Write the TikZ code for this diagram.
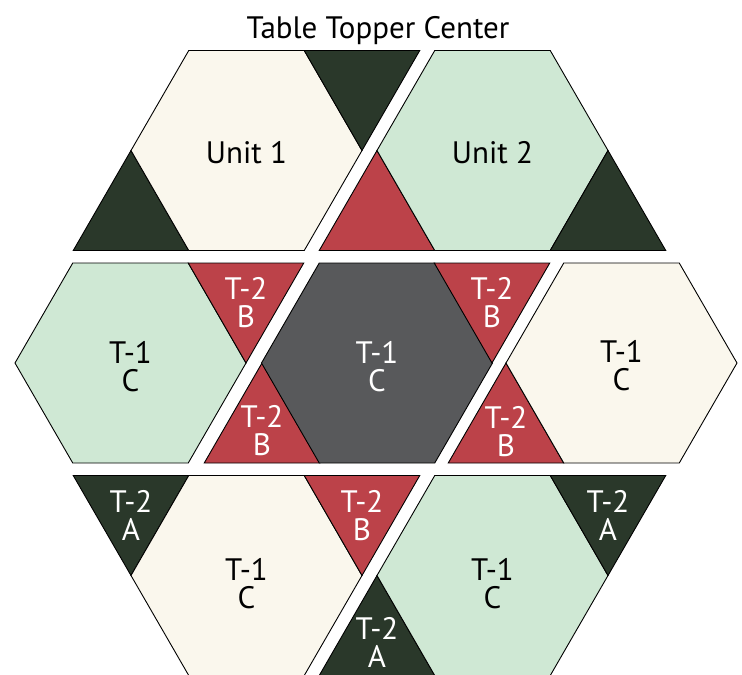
\documentclass[tikz,border=0pt]{standalone}
\usepackage{fontspec}
\setmainfont{PT Sans}
\usepackage{tikz}
\usepackage{xcolor}
\definecolor{cCream}{RGB}{250,247,237}
\definecolor{cMint}{RGB}{207,232,212}
\definecolor{cForest}{RGB}{42,56,42}
\definecolor{cBerry}{RGB}{188,66,73}
\definecolor{cSlate}{RGB}{88,89,91}
\tikzset{
	% quilt pieces, origin at hexagon centre or triangle apex
	hexpiece/.pic={\path[pic actions] (-115.5,0) -- (-57.75,-100) -- (57.75,-100) -- (115.5,0) -- (57.75,100) -- (-57.75,100) -- cycle;},
	tridown/.pic ={\path[pic actions] (0,0) -- (-57.75,-100) -- (57.75,-100) -- cycle;},
	triup/.pic   ={\path[pic actions] (0,0) -- (-57.75,100) -- (57.75,100) -- cycle;},
	piece/.style ={draw=black, line width=0.9pt, line join=miter},
	% labels
	lbl/.style   ={align=center, inner sep=0pt, text=black, font=\fontsize{31}{28}\selectfont},
	lblw/.style  ={lbl, text=white},
}

\begin{document}
\begin{tikzpicture}[x=1pt, y=-1pt]
	\useasboundingbox (0,0) rectangle (742,675);
	% top row: Unit 1 and Unit 2
	\pic[piece, fill=cForest] (u1a) at (131,150.5) {triup};
	\pic[piece, fill=cCream] (u1hex) at (246.5,150.5) {hexpiece};
	\pic[piece, fill=cForest] (u1b) at (362,150.5) {tridown};
	\pic[piece, fill=cBerry] (u2a) at (377,150.5) {triup};
	\pic[piece, fill=cMint] (u2hex) at (492.5,150.5) {hexpiece};
	\pic[piece, fill=cForest] (u2b) at (608,150.5) {triup};
	% middle row
	\pic[piece, fill=cMint] (mlhex) at (130.5,363) {hexpiece};
	\pic[piece, fill=cBerry] (mla) at (246,363) {tridown};
	\pic[piece, fill=cBerry] (mca) at (262,363) {triup};
	\pic[piece, fill=cSlate] (mchex) at (377,363) {hexpiece};
	\pic[piece, fill=cBerry] (mcb) at (492,363) {tridown};
	\pic[piece, fill=cBerry] (mra) at (506,363) {triup};
	\pic[piece, fill=cCream] (mrhex) at (621.5,363) {hexpiece};
	% bottom row
	\pic[piece, fill=cForest] (bla) at (131,575.5) {tridown};
	\pic[piece, fill=cCream] (blhex) at (246.5,575.5) {hexpiece};
	\pic[piece, fill=cBerry] (blb) at (362,575.5) {tridown};
	\pic[piece, fill=cForest] (bra) at (377,575.5) {triup};
	\pic[piece, fill=cMint] (brhex) at (492.5,575.5) {hexpiece};
	\pic[piece, fill=cForest] (brb) at (608,575.5) {tridown};
	% texts
	\node[lbl, anchor=base] (title) at (378,38.3) {Table Topper Center};
	\node[lbl] (unit1) at (246.5,153) {Unit 1};
	\node[lbl] (unit2) at (492.5,153) {Unit 2};
	\node[lbl] (tml) at (130.5,367) {T-1\\C};
	\node[lblw] (tmc) at (377,367) {T-1\\C};
	\node[lbl] (tmr) at (621.5,366) {T-1\\C};
	\node[lblw] (bml1) at (246,302.5) {T-2\\B};
	\node[lblw] (bmc1) at (262,430.5) {T-2\\B};
	\node[lblw] (bmc2) at (492,302.5) {T-2\\B};
	\node[lblw] (bmr1) at (506,431.5) {T-2\\B};
	\node[lblw] (abl1) at (131,515.5) {T-2\\A};
	\node[lbl] (tbl) at (246.5,584) {T-1\\C};
	\node[lblw] (bbl) at (362,515.5) {T-2\\B};
	\node[lblw] (abr1) at (377,642) {T-2\\A};
	\node[lbl] (tbr) at (492.5,584) {T-1\\C};
	\node[lblw] (abr2) at (608,515.5) {T-2\\A};
\end{tikzpicture}
\end{document}
